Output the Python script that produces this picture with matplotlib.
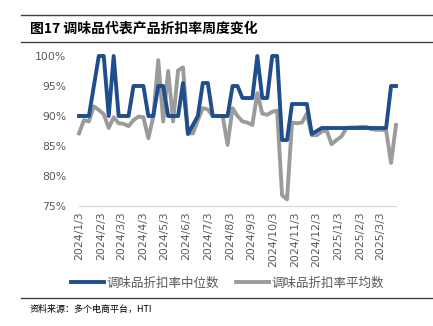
import matplotlib

matplotlib.use("Agg")
import matplotlib.pyplot as plt  # noqa: E402
import pandas as pd  # noqa: E402

plt.rcParams["font.family"] = ["Noto Sans CJK SC", "DejaVu Sans"]

# weekly observations, starting 2024/1/3
weeks = pd.date_range("2024-01-03", periods=65, freq="7D")

median_pct = [
    90, 90, 90, 95, 100, 100, 90, 100, 90, 90,
    90, 95, 95, 95, 90, 90, 95, 95, 90, 90,
    90, 95.5, 87, 88.5, 90, 95.5, 95.5, 90, 90, 90,
    90, 95, 95, 93, 93, 93, 100, 93, 93, 100,
    100, 86, 86, 92, 92, 92, 92, 87, 87.5, 88,
    88, 88, 88, 88, 88, 88, 88, 88, 88, 88,
    88, 88, 88, 95, 95,
]
mean_pct = [
    87.1, 89.3, 89.1, 91.6, 91.0, 90.3, 88.0, 89.8, 88.8, 88.7,
    88.3, 89.3, 89.9, 89.8, 86.3, 89.9, 99.3, 89.1, 97.5, 89.1,
    97.6, 98.1, 87.1, 87.1, 89.3, 91.3, 91.1, 90.0, 90.0, 90.0,
    85.2, 91.3, 90.0, 89.1, 88.9, 88.5, 93.8, 90.4, 90.2, 90.7,
    90.9, 76.8, 76.1, 88.9, 88.8, 88.9, 90.4, 86.8, 86.8, 87.4,
    87.6, 85.3, 86.0, 86.6, 88.0, 88.1, 88.1, 88.2, 88.2, 87.8,
    87.7, 87.7, 87.6, 82.2, 88.5,
]
# monthly ticks on the 3rd
tick_dates = pd.date_range("2024-01-01", "2025-03-01", freq="MS") + pd.Timedelta(days=2)
tick_labels = [f"{d.year}/{d.month}/{d.day}" for d in tick_dates]
y_ticks = [75, 80, 85, 90, 95, 100]

BLUE = "#1F4E8C"
GREY = "#9B9B9B"
TXT = "#595959"

fig = plt.figure(figsize=(4.33, 3.26), dpi=100)
ax = fig.add_axes([79 / 433, 1 - 206 / 326, (396 - 79) / 433, 150 / 326])

ax.plot(weeks, median_pct, color=BLUE, lw=2.8, clip_on=False, zorder=3,
        label="调味品折扣率中位数")
ax.plot(weeks, mean_pct, color=GREY, lw=2.8, clip_on=False, zorder=2,
        label="调味品折扣率平均数")

ax.set_xlim(weeks[0], weeks[-1])
ax.set_ylim(75, 100)
ax.set_yticks(y_ticks)
ax.set_yticklabels([f"{v}%" for v in y_ticks], family="DejaVu Sans")
ax.set_xticks(tick_dates)
ax.set_xticklabels(tick_labels, rotation=90, family="DejaVu Sans")
ax.tick_params(axis="y", length=0, pad=9, labelsize=7.8, labelcolor=TXT)
ax.tick_params(axis="x", length=0, pad=4, labelsize=7.8, labelcolor=TXT)

for side in ("top", "right", "left"):
    ax.spines[side].set_visible(False)
ax.spines["bottom"].set_color("#D9D9D9")
ax.spines["bottom"].set_linewidth(0.9)

fig.legend(loc="center", bbox_to_anchor=(0.525, 1 - 283 / 326), ncol=2,
           frameon=False, fontsize=9, handlelength=2.6, handletextpad=0.2,
           columnspacing=1.4, labelcolor=TXT)

# header and footer rules
for y in (15, 42, 298):
    fig.add_artist(plt.Line2D([21 / 433, 1], [1 - y / 326] * 2,
                              color="#404040", lw=1.0))
fig.text(30 / 433, 1 - 29 / 326, "图17 调味品代表产品折扣率周度变化",
         fontsize=10, fontweight="bold", va="center", ha="left")
fig.text(30 / 433, 1 - 309 / 326, "资料来源：多个电商平台，HTI",
         fontsize=6.5, va="center", ha="left")

fig.savefig("out.png", dpi=100)
plt.close(fig)
